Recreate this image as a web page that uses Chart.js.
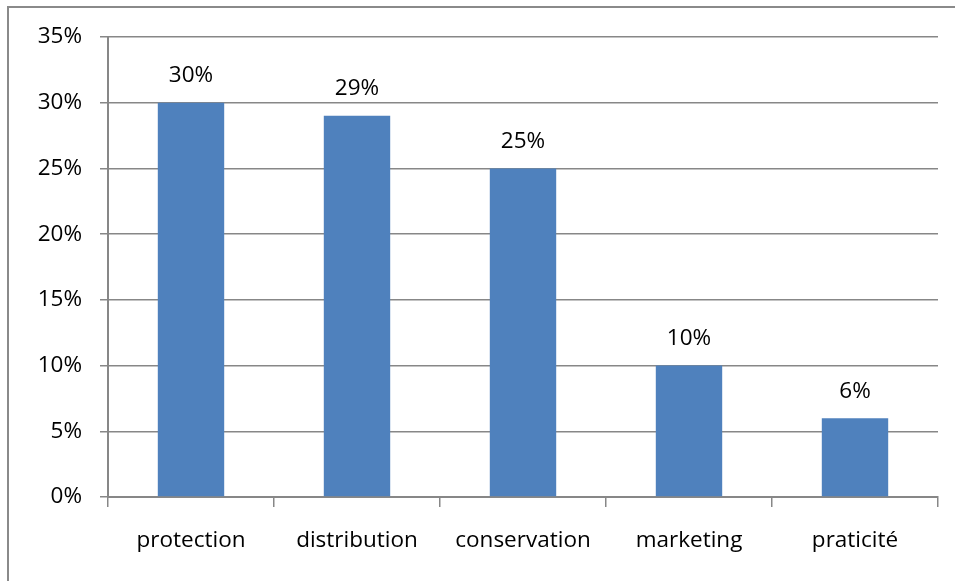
<!DOCTYPE html>
<html lang="fr">
<head>
    <meta charset="UTF-8">
    <title>Fonctions</title>
    <script src="https://cdn.jsdelivr.net/npm/chart.js"></script>
    <style>
        html, body { margin: 0; padding: 0; background: #fff; }
        #wrap { width: 955px; height: 581px; position: relative; }
    </style>
</head>
<body>
    <div id="wrap">
        <canvas id="chart" width="955" height="581"></canvas>
    </div>
    <script>
        // valeurs
        var categories = ['protection', 'distribution', 'conservation', 'marketing', 'praticité'];
        var values = [30, 29, 25, 10, 6];
        var yMax = 35;
        var yStep = 5;

        var FONT = '"Open Sans", "Noto Sans", sans-serif';
        var FSIZE = 22.5;

        // cadre gris autour du graphique
        var framePlugin = {
            id: 'frame',
            beforeDraw: function(chart) {
                var ctx = chart.ctx;
                ctx.save();
                ctx.strokeStyle = '#8a8a8a';
                ctx.lineWidth = 2;
                ctx.strokeRect(8, 7, chart.width + 20, chart.height + 20);
                ctx.restore();
            }
        };

        // étiquettes au-dessus des barres
        var labelPlugin = {
            id: 'barLabels',
            afterDatasetsDraw: function(chart) {
                var ctx = chart.ctx;
                var meta = chart.getDatasetMeta(0);
                ctx.save();
                ctx.fillStyle = '#000';
                ctx.font = FSIZE + 'px ' + FONT;
                ctx.textAlign = 'center';
                ctx.textBaseline = 'middle';
                meta.data.forEach(function(bar, i) {
                    ctx.fillText(values[i] + '%', bar.x, bar.y - 27);
                });
                ctx.restore();
            }
        };

        var ctx = document.getElementById('chart').getContext('2d');
        new Chart(ctx, {
            type: 'bar',
            data: {
                labels: categories,
                datasets: [{
                    data: values,
                    backgroundColor: '#4f81bd',
                    borderWidth: 0,
                    categoryPercentage: 1.0,
                    barPercentage: 0.4
                }]
            },
            plugins: [framePlugin, labelPlugin],
            options: {
                responsive: false,
                animation: false,
                layout: { padding: { top: 37, right: 17, left: 0, bottom: 0 } },
                plugins: {
                    legend: { display: false },
                    tooltip: { enabled: false }
                },
                scales: {
                    x: {
                        grid: {
                            offset: true,
                            drawOnChartArea: false,
                            drawTicks: true,
                            tickLength: 10,
                            color: '#878787',
                            lineWidth: 1.5
                        },
                        border: { color: '#878787', width: 2 },
                        ticks: {
                            color: '#000',
                            font: { family: FONT, size: FSIZE },
                            padding: 20,
                            maxRotation: 0
                        },
                        afterFit: function(scale) { scale.height = 84; }
                    },
                    y: {
                        min: 0,
                        max: yMax,
                        grid: {
                            color: '#878787',
                            lineWidth: 1.5,
                            tickLength: 8
                        },
                        border: { color: '#878787', width: 2 },
                        ticks: {
                            stepSize: yStep,
                            color: '#000',
                            font: { family: FONT, size: FSIZE },
                            padding: 18,
                            callback: function(v) { return v + '%'; }
                        },
                        afterFit: function(scale) { scale.width = 108; }
                    }
                }
            }
        });
    </script>
</body>
</html>
